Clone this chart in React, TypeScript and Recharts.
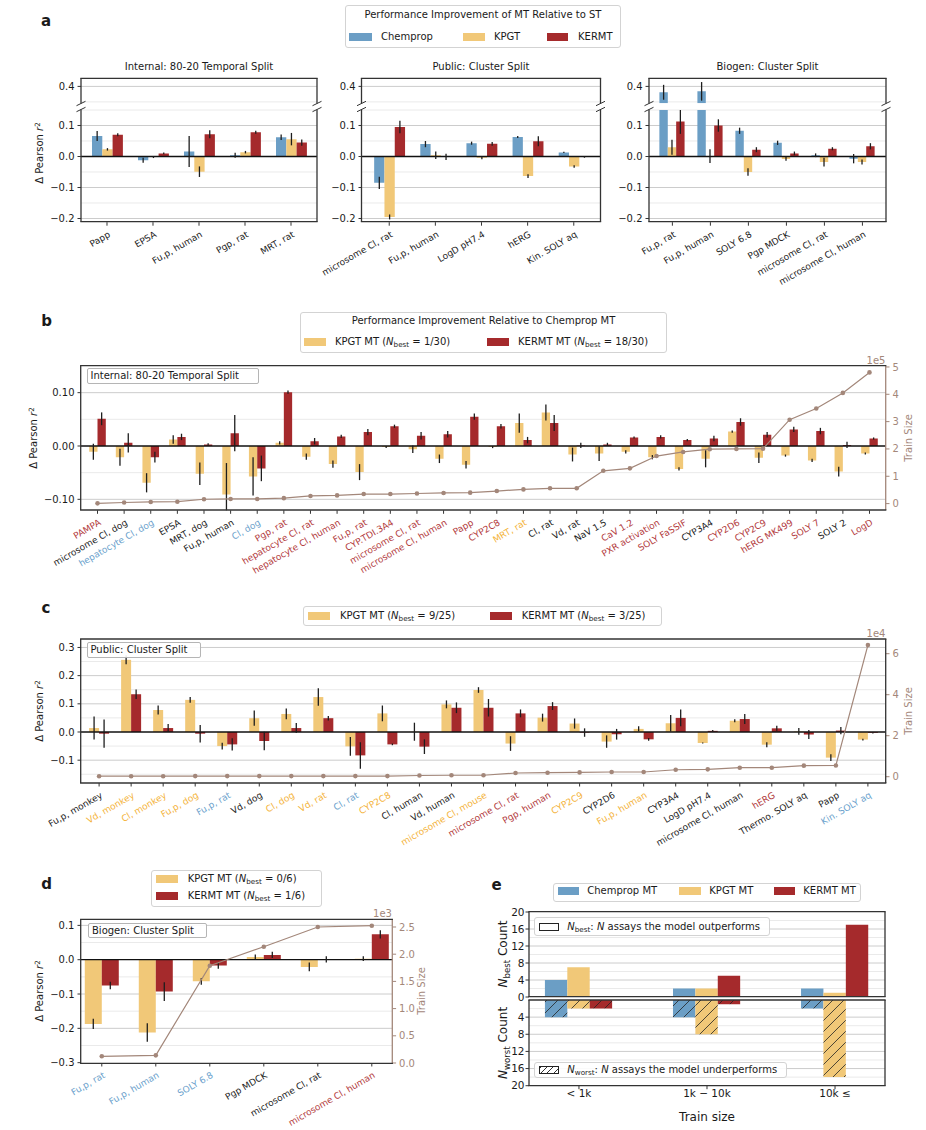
import React from 'react';
import { ComposedChart, Bar, Line, XAxis, YAxis, ErrorBar, ReferenceLine, CartesianGrid } from 'recharts';

// ---------- panel a: MT vs ST ----------
const A1_NAMES = ['Papp', 'EPSA', 'Fu,p, human', 'Pgp, rat', 'MRT, rat'];
const A1_CHEMPROP = [0.066, -0.012, 0.016, 0.004, 0.062];
const A1_CHEMPROP_ERR = [0.016, 0.008, 0.05, 0.008, 0.009];
const A1_KPGT = [0.023, -0.002, -0.049, 0.014, 0.056];
const A1_KPGT_ERR = [0.004, 0.003, 0.017, 0.004, 0.02];
const A1_KERMT = [0.07, 0.01, 0.072, 0.078, 0.045];
const A1_KERMT_ERR = [0.005, 0.003, 0.013, 0.005, 0.01];

const A2_NAMES = ['microsome Cl, rat', 'Fu,p, human', 'LogD pH7.4', 'hERG', 'Kin. SOLY aq'];
const A2_CHEMPROP = [-0.085, 0.04, 0.043, 0.063, 0.013];
const A2_CHEMPROP_ERR = [0.02, 0.01, 0.005, 0.003, 0.002];
const A2_KPGT = [-0.195, 0.004, -0.004, -0.063, -0.032];
const A2_KPGT_ERR = [0.008, 0.012, 0.005, 0.006, 0.004];
const A2_KERMT = [0.095, -0.001, 0.041, 0.049, -0.002];
const A2_KERMT_ERR = [0.02, 0.01, 0.006, 0.016, 0.002];

const A3_NAMES = ['Fu,p, rat', 'Fu,p, human', 'SOLY 6.8', 'Pgp MDCK', 'microsome Cl, rat', 'microsome Cl, human'];
const A3_CHEMPROP = [0.381, 0.384, 0.083, 0.044, 0.004, -0.007];
const A3_CHEMPROP_ERR = [0.024, 0.03, 0.01, 0.007, 0.006, 0.015];
const A3_KPGT = [0.03, 0.001, -0.05, -0.008, -0.018, -0.018];
const A3_KPGT_ERR = [0.024, 0.022, 0.012, 0.006, 0.014, 0.008];
const A3_KERMT = [0.113, 0.1, 0.022, 0.01, 0.025, 0.033];
const A3_KERMT_ERR = [0.04, 0.02, 0.008, 0.006, 0.005, 0.01];

// ---------- panel b: internal, relative to Chemprop MT ----------
const B_NAMES = ['PAMPA', 'microsome Cl, dog', 'hepatocyte Cl, dog', 'EPSA', 'MRT, dog', 'Fu,p, human', 'Cl, dog', 'Pgp, rat',
  'hepatocyte Cl, rat', 'hepatocyte Cl, human', 'Fu,p, rat', 'CYP.TDI.3A4', 'microsome Cl, rat', 'microsome Cl, human', 'Papp',
  'CYP2C8', 'MRT, rat', 'Cl, rat', 'Vd, rat', 'NaV 1.5', 'CaV 1.2', 'PXR activation', 'SOLY FaSSIF', 'CYP3A4', 'CYP2D6',
  'CYP2C9', 'hERG MK499', 'SOLY 7', 'SOLY 2', 'LogD'];
const B_BEST = ['r', 'k', 'b', 'k', 'k', 'k', 'b', 'r', 'r', 'r', 'r', 'r', 'r', 'r', 'r', 'r', 'y', 'k', 'k', 'k', 'r', 'r', 'r', 'k', 'r', 'r', 'r', 'r', 'k', 'r'];
const B_KPGT = [-0.011, -0.021, -0.069, 0.012, -0.052, -0.091, -0.057, 0.006, -0.02, -0.034, -0.049, -0.002, -0.006, -0.024, -0.035,
  -0.002, 0.043, 0.063, -0.016, -0.014, -0.011, -0.021, -0.043, -0.024, 0.027, -0.022, -0.018, -0.027, -0.048, -0.014];
const B_KPGT_ERR = [0.015, 0.016, 0.018, 0.008, 0.021, 0.059, 0.036, 0.003, 0.006, 0.007, 0.015, 0.002, 0.007, 0.008, 0.007,
  0.002, 0.018, 0.015, 0.013, 0.014, 0.003, 0.004, 0.003, 0.016, 0.002, 0.01, 0.002, 0.003, 0.009, 0.002];
const B_KERMT = [0.051, 0.006, -0.021, 0.017, 0.003, 0.024, -0.042, 0.101, 0.009, 0.018, 0.026, 0.037, 0.019, 0.022, 0.055,
  0.037, 0.011, 0.043, 0.001, 0.003, 0.016, 0.017, 0.011, 0.014, 0.045, 0.021, 0.031, 0.028, 0.002, 0.014];
const B_KERMT_ERR = [0.012, 0.018, 0.01, 0.006, 0.002, 0.034, 0.024, 0.003, 0.006, 0.003, 0.006, 0.003, 0.007, 0.006, 0.006,
  0.004, 0.006, 0.015, 0.005, 0.003, 0.002, 0.003, 0.002, 0.005, 0.007, 0.005, 0.005, 0.006, 0.006, 0.002];
const B_SIZE = [1000, 4000, 6000, 7000, 16000, 17000, 17000, 20000, 28000, 30000, 35000, 35000, 37000, 39000, 40000,
  46000, 52000, 56000, 56000, 120000, 129000, 174000, 189000, 199000, 200000, 201000, 307000, 348000, 405000, 480000];

// ---------- panel c: public cluster split ----------
const C_NAMES = ['Fu,p, monkey', 'Vd, monkey', 'Cl, monkey', 'Fu,p, dog', 'Fu,p, rat', 'Vd, dog', 'Cl, dog', 'Vd, rat', 'Cl, rat',
  'CYP2C8', 'Cl, human', 'Vd, human', 'microsome Cl, mouse', 'microsome Cl, rat', 'Pgp, human', 'CYP2C9', 'CYP2D6',
  'Fu,p, human', 'CYP3A4', 'LogD pH7.4', 'microsome Cl, human', 'hERG', 'Thermo. SOLY aq', 'Papp', 'Kin. SOLY aq'];
const C_BEST = ['k', 'y', 'y', 'y', 'b', 'k', 'y', 'y', 'b', 'y', 'k', 'k', 'y', 'r', 'r', 'y', 'k', 'y', 'k', 'k', 'k', 'r', 'k', 'k', 'b'];
const C_KPGT = [0.014, 0.256, 0.078, 0.114, -0.05, 0.049, 0.064, 0.124, -0.051, 0.066, 0.001, 0.098, 0.149, -0.041, 0.051,
  0.03, -0.034, 0.011, 0.031, -0.039, 0.04, -0.045, 0.002, -0.091, -0.027];
const C_KPGT_ERR = [0.041, 0.016, 0.016, 0.01, 0.012, 0.027, 0.019, 0.031, 0.033, 0.028, 0.032, 0.014, 0.01, 0.026, 0.014,
  0.018, 0.022, 0.009, 0.029, 0.002, 0.005, 0.009, 0.012, 0.012, 0.003];
const C_KERMT = [-0.006, 0.134, 0.014, -0.006, -0.044, -0.032, 0.014, 0.049, -0.083, -0.044, -0.052, 0.086, 0.086, 0.066, 0.092,
  -0.002, -0.008, -0.026, 0.05, 0.004, 0.046, 0.013, -0.009, 0.005, -0.003];
const C_KERMT_ERR = [0.05, 0.017, 0.014, 0.031, 0.022, 0.033, 0.018, 0.008, 0.047, 0.003, 0.026, 0.019, 0.031, 0.014, 0.014,
  0.015, 0.019, 0.005, 0.03, 0.003, 0.018, 0.009, 0.016, 0.013, 0.002];
const C_SIZE = [250, 250, 250, 300, 300, 300, 300, 300, 300, 300, 600, 700, 700, 1800, 1950, 2100, 2300, 2300, 3400, 3600,
  4400, 4400, 5400, 5500, 64200];

// ---------- panel d: biogen cluster split ----------
const D_NAMES = ['Fu,p, rat', 'Fu,p, human', 'SOLY 6.8', 'Pgp MDCK', 'microsome Cl, rat', 'microsome Cl, human'];
const D_BEST = ['b', 'b', 'b', 'k', 'k', 'r'];
const D_KPGT = [-0.187, -0.212, -0.063, 0.008, -0.021, 0.003];
const D_KPGT_ERR = [0.015, 0.027, 0.01, 0.007, 0.013, 0.007];
const D_KERMT = [-0.075, -0.093, -0.017, 0.014, 0.001, 0.074];
const D_KERMT_ERR = [0.011, 0.027, 0.009, 0.009, 0.009, 0.012];
const D_SIZE = [123, 141, 1789, 2138, 2500, 2524];

// ---------- panel e: counts by train size ----------
const E_CATS = ['< 1k', '1k \u2212 10k', '10k \u2264'];
const E_BEST_CHEMPROP = [4, 2, 2];
const E_BEST_KPGT = [7, 2, 1];
const E_BEST_KERMT = [0, 5, 17];
const E_WORST_CHEMPROP = [4, 4, 2];
const E_WORST_KPGT = [2, 8, 18];
const E_WORST_KERMT = [2, 1, 0];

// ---------- style ----------
const FONT = '"DejaVu Sans", Verdana, sans-serif';
const COL_CHEM = '#6b9ec5';
const COL_KPGT = '#f1c878';
const COL_KERMT = '#a52a2c';
const COL_SIZE = '#a3877a';
const COL_ERR = '#1e1e1e';
const COL_SPINE = '#333333';
const COL_GRID = '#cccccc';
const COL_GRID_MINOR = '#eaeaea';
const TEXT = '#1a1a1a';
const LABEL_COLOR: Record<string, string> = { k: TEXT, r: '#b2393b', b: '#6a9fcc', y: '#f4b33a' };

const A_TOP_Y = [78.3, 103.5];
const A_BOT_Y = [109.5, 221.7];
const A_TOP_DOMAIN: [number, number] = [0.3458, 0.4271];
const A_BOT_DOMAIN: [number, number] = [-0.2119, 0.15];
const A_LAYOUT = [
  { x0: 81, x1: 317, xlim: [-0.565, 4.565] as [number, number], bar: 10.3 },
  { x0: 361.5, x1: 600.5, xlim: [-0.59, 4.59] as [number, number], bar: 10.3 },
  { x0: 649, x1: 886, xlim: [-0.615, 5.62] as [number, number], bar: 8.4 },
];
const B_PLOT = { x0: 80.7, y0: 365.7, x1: 885.7, y1: 510 };
const C_PLOT = { x0: 80.7, y0: 639, x1: 885.7, y1: 783 };
const D_PLOT = { x0: 80.7, y0: 919.3, x1: 392.3, y1: 1063.3 };
const E_TOP = { x0: 529, y0: 911.7, x1: 885, y1: 996.7 };
const E_BOT = { x0: 529, y0: 1000, x1: 885, y1: 1085.7 };
const B_YDOMAIN: [number, number] = [-0.1206, 0.15];
const C_YDOMAIN: [number, number] = [-0.181, 0.33];
const D_YDOMAIN: [number, number] = [-0.301, 0.1186];

const PAD_L = 60, PAD_R = 60, PAD_T = 10, AX_W = 40;
const idx = (n: number) => Array.from({ length: n }, (_, i) => i);
const fmt = (d: number) => (v: number) => (v < -1e-9 ? '\u2212' : '') + Math.abs(v).toFixed(d);

function chartBox(x0: number, y0: number, x1: number, y1: number, xh: number, right: boolean) {
  return {
    style: { position: 'absolute' as const, left: x0 - PAD_L, top: y0 - PAD_T },
    width: x1 - x0 + PAD_L + PAD_R,
    height: y1 - y0 + PAD_T + xh,
    margin: { top: PAD_T, bottom: 0, left: PAD_L - AX_W, right: right ? PAD_R - AX_W : PAD_R },
  };
}

// error whiskers stop at the edge of the axes, like matplotlib's clipping
const clipErr = (v: number, e: number, dom: [number, number]) => [Math.max(0, Math.min(e, v - dom[0])), Math.max(0, Math.min(e, dom[1] - v))];

const rotTick = (names: string[], best: string[] | null) => (props: any) => {
  const { x, y, payload } = props;
  const i = Math.round(payload.value);
  const bx = x + 4;
  const by = y + 8.5;
  return (
    <text x={bx} y={by} transform={`rotate(-30 ${bx} ${by})`} textAnchor="end" fontSize={9} fontFamily={FONT}
      fill={LABEL_COLOR[best ? best[i] : 'k']}>
      {names[i]}
    </text>
  );
};

const tickStyle = { fontSize: 10, fill: TEXT, fontFamily: FONT };
const rightTickStyle = { fontSize: 10, fill: COL_SIZE, fontFamily: FONT };

// ---------- small html helpers ----------
function Txt({ x, y, size = 10, anchor = 'start', color = TEXT, bold = false, rotate = 0, children }: any) {
  const tx = anchor === 'start' ? '0' : anchor === 'middle' ? '-50%' : '-100%';
  return (
    <div style={{
      position: 'absolute', left: x, top: y, fontSize: size, lineHeight: 1, whiteSpace: 'nowrap', color,
      fontWeight: bold ? 'bold' : 'normal', fontFamily: FONT,
      transform: rotate ? `translate(-50%,-50%) rotate(${rotate}deg)` : `translate(${tx},-50%)`,
    }}>{children}</div>
  );
}
function Box({ x0, y0, x1, y1, border = '#d3d3d3', radius = 3 }: any) {
  return <div style={{ position: 'absolute', left: x0, top: y0, width: x1 - x0, height: y1 - y0, boxSizing: 'border-box',
    border: `1px solid ${border}`, borderRadius: radius, background: 'rgba(255,255,255,0.9)' }} />;
}
function Swatch({ x0, x1, y, color = '#fff', hatch = false, hollow = false }: any) {
  return <div style={{ position: 'absolute', left: x0, top: y - 4, width: x1 - x0, height: 8, boxSizing: 'border-box',
    background: color,
    backgroundImage: hatch ? 'repeating-linear-gradient(135deg, #333 0 0.8px, transparent 0.8px 4.5px)' : undefined,
    border: hatch || hollow ? '1px solid #222' : undefined }} />;
}
const Sub = ({ children }: any) => <span style={{ fontSize: '0.72em', position: 'relative', top: '0.3em' }}>{children}</span>;
const Sup = ({ children }: any) => <span style={{ fontSize: '0.72em', position: 'relative', top: '-0.45em' }}>{children}</span>;
const NB = () => <><i>N</i><Sub>best</Sub></>;
const NW = () => <><i>N</i><Sub>worst</Sub></>;
const DeltaR2 = () => <>Δ Pearson <i>r</i><Sup>2</Sup></>;

// ---------- panel a ----------
const A_SETS = [
  { names: A1_NAMES, chem: A1_CHEMPROP, chemErr: A1_CHEMPROP_ERR, kpgt: A1_KPGT, kpgtErr: A1_KPGT_ERR, kermt: A1_KERMT, kermtErr: A1_KERMT_ERR },
  { names: A2_NAMES, chem: A2_CHEMPROP, chemErr: A2_CHEMPROP_ERR, kpgt: A2_KPGT, kpgtErr: A2_KPGT_ERR, kermt: A2_KERMT, kermtErr: A2_KERMT_ERR },
  { names: A3_NAMES, chem: A3_CHEMPROP, chemErr: A3_CHEMPROP_ERR, kpgt: A3_KPGT, kpgtErr: A3_KPGT_ERR, kermt: A3_KERMT, kermtErr: A3_KERMT_ERR },
];

function aRows(s: any, part: 'top' | 'bot') {
  return s.names.map((_: string, i: number) => {
    const row: any = { i };
    for (const key of ['chem', 'kpgt', 'kermt']) {
      const v = s[key][i];
      const e = s[key + 'Err'][i];
      if (part === 'top') {
        const show = v > A_TOP_DOMAIN[0];
        row[key] = show ? v : null;
        row[key + 'Err'] = show ? clipErr(v, e, A_TOP_DOMAIN) : null;
      } else {
        const over = v > A_BOT_DOMAIN[1];
        row[key] = over ? A_BOT_DOMAIN[1] : v;
        row[key + 'Err'] = over ? null : clipErr(v, e, A_BOT_DOMAIN);
      }
    }
    return row;
  });
}

function ASubplot({ k }: { k: number }) {
  const s = A_SETS[k];
  const L = A_LAYOUT[k];
  const top = chartBox(L.x0, A_TOP_Y[0], L.x1, A_TOP_Y[1], 0, false);
  const bot = chartBox(L.x0, A_BOT_Y[0], L.x1, A_BOT_Y[1], 80, false);
  const bars = (suffix: string) => [
    <Bar key={'c' + suffix} dataKey="chem" fill={COL_CHEM} barSize={L.bar} isAnimationActive={false}>
      <ErrorBar dataKey="chemErr" width={0} stroke={COL_ERR} strokeWidth={1.3} direction="y" />
    </Bar>,
    <Bar key={'p' + suffix} dataKey="kpgt" fill={COL_KPGT} barSize={L.bar} isAnimationActive={false}>
      <ErrorBar dataKey="kpgtErr" width={0} stroke={COL_ERR} strokeWidth={1.3} direction="y" />
    </Bar>,
    <Bar key={'k' + suffix} dataKey="kermt" fill={COL_KERMT} barSize={L.bar} isAnimationActive={false}>
      <ErrorBar dataKey="kermtErr" width={0} stroke={COL_ERR} strokeWidth={1.3} direction="y" />
    </Bar>,
  ];
  return (
    <>
      <div style={top.style}>
        <ComposedChart width={top.width} height={top.height} margin={top.margin} data={aRows(s, 'top')} barGap={0}>
          <CartesianGrid vertical={false} horizontalValues={[0.35]} stroke={COL_GRID_MINOR} />
          <CartesianGrid vertical={false} horizontalValues={[0.4]} stroke={COL_GRID} />
          <XAxis hide type="number" dataKey="i" domain={L.xlim} allowDataOverflow ticks={idx(s.names.length)} />
          <YAxis type="number" domain={A_TOP_DOMAIN} allowDataOverflow ticks={[0.4]} interval={0} tickFormatter={fmt(1)}
            width={AX_W} tickSize={3.5} tickMargin={3} tick={tickStyle} tickLine={{ stroke: COL_SPINE }} axisLine={false} />
          {bars('t')}
        </ComposedChart>
      </div>
      <div style={bot.style}>
        <ComposedChart width={bot.width} height={bot.height} margin={bot.margin} data={aRows(s, 'bot')} barGap={0}>
          <CartesianGrid vertical={false} horizontalValues={[-0.15, -0.05, 0.05, 0.15]} stroke={COL_GRID_MINOR} />
          <CartesianGrid vertical={false} horizontalValues={[-0.2, -0.1, 0.1]} stroke={COL_GRID} />
          <XAxis type="number" dataKey="i" domain={L.xlim} allowDataOverflow ticks={idx(s.names.length)} interval={0}
            tick={rotTick(s.names, null)} tickSize={3.5} tickMargin={2} tickLine={{ stroke: COL_SPINE }} axisLine={false} height={80} />
          <YAxis type="number" domain={A_BOT_DOMAIN} allowDataOverflow ticks={[-0.2, -0.1, 0, 0.1]} interval={0} tickFormatter={fmt(1)}
            width={AX_W} tickSize={3.5} tickMargin={3} tick={tickStyle} tickLine={{ stroke: COL_SPINE }} axisLine={false} />
          <ReferenceLine y={0} stroke="#111" strokeWidth={1.3} />
          {bars('b')}
        </ComposedChart>
      </div>
    </>
  );
}

// ---------- panels b, c, d ----------
function DeltaPanel(p: any) {
  const bx = chartBox(p.plot.x0, p.plot.y0, p.plot.x1, p.plot.y1, 90, true);
  return (
    <div style={bx.style}>
      <ComposedChart width={bx.width} height={bx.height} margin={bx.margin} data={p.rows} barGap={0}>
        <CartesianGrid yAxisId="l" vertical={false} horizontalValues={p.gridMinor} stroke={COL_GRID_MINOR} />
        <CartesianGrid yAxisId="l" vertical={false} horizontalValues={p.gridMajor} stroke={COL_GRID} />
        <XAxis type="number" dataKey="i" domain={p.xlim} allowDataOverflow ticks={idx(p.names.length)} interval={0}
          tick={rotTick(p.names, p.best)} tickSize={3.5} tickMargin={2} tickLine={{ stroke: COL_SPINE }} axisLine={false} height={90} />
        <YAxis yAxisId="l" type="number" domain={p.yDomain} allowDataOverflow ticks={p.yTicks} interval={0} tickFormatter={fmt(p.yDigits)}
          width={AX_W} tickSize={3.5} tickMargin={3} tick={tickStyle} tickLine={{ stroke: COL_SPINE }} axisLine={false} />
        <YAxis yAxisId="r" orientation="right" type="number" domain={p.rDomain} allowDataOverflow ticks={p.rTicks} interval={0}
          tickFormatter={p.rFmt} width={AX_W} tickSize={3.5} tickMargin={3} tick={rightTickStyle} tickLine={{ stroke: COL_SIZE }} axisLine={false} />
        <ReferenceLine yAxisId="l" y={0} stroke="#111" strokeWidth={1.3} />
        <Bar yAxisId="l" dataKey="kpgt" fill={COL_KPGT} barSize={p.bar} isAnimationActive={false}>
          <ErrorBar dataKey="kpgtErr" width={0} stroke={COL_ERR} strokeWidth={1.3} direction="y" />
        </Bar>
        <Bar yAxisId="l" dataKey="kermt" fill={COL_KERMT} barSize={p.bar} isAnimationActive={false}>
          <ErrorBar dataKey="kermtErr" width={0} stroke={COL_ERR} strokeWidth={1.3} direction="y" />
        </Bar>
        <Line yAxisId="r" dataKey="size" stroke={COL_SIZE} strokeWidth={1.2} dot={{ r: 2.3, fill: COL_SIZE, stroke: COL_SIZE, strokeWidth: 0 }}
          activeDot={false} isAnimationActive={false} />
      </ComposedChart>
    </div>
  );
}

const deltaRows = (names: string[], kpgt: number[], kpgtErr: number[], kermt: number[], kermtErr: number[], size: number[], dom: [number, number]) =>
  names.map((_, i) => ({
    i, kpgt: kpgt[i], kpgtErr: clipErr(kpgt[i], kpgtErr[i], dom),
    kermt: kermt[i], kermtErr: clipErr(kermt[i], kermtErr[i], dom), size: size[i],
  }));

// ---------- panel e ----------
const eTick = (props: any) => (
  <text x={props.x} y={props.y + 6} textAnchor="middle" fontSize={10.5} fontFamily={FONT} fill={TEXT}>
    {E_CATS[Math.round(props.payload.value)]}
  </text>
);

function PanelE() {
  const rowsTop = E_CATS.map((_, i) => ({ i, chem: E_BEST_CHEMPROP[i], kpgt: E_BEST_KPGT[i], kermt: E_BEST_KERMT[i] }));
  const rowsBot = E_CATS.map((_, i) => ({ i, chem: E_WORST_CHEMPROP[i], kpgt: E_WORST_KPGT[i], kermt: E_WORST_KERMT[i] }));
  const top = chartBox(E_TOP.x0, E_TOP.y0, E_TOP.x1, E_TOP.y1, 0, false);
  const bot = chartBox(E_BOT.x0, E_BOT.y0, E_BOT.x1, E_BOT.y1, 30, false);
  const xlim: [number, number] = [-0.39, 2.39];
  const yTick = { fontSize: 10.5, fill: TEXT, fontFamily: FONT };
  const hatch = (id: string, color: string) => (
    <pattern id={id} patternUnits="userSpaceOnUse" width={11} height={11}>
      <rect width={11} height={11} fill={color} />
      <path d="M0,11 L11,0 M-2,2 L2,-2 M9,13 L13,9" stroke="#222" strokeWidth={0.8} />
    </pattern>
  );
  return (
    <>
      <div style={top.style}>
        <ComposedChart width={top.width} height={top.height} margin={top.margin} data={rowsTop} barGap={0}>
          <CartesianGrid vertical={false} horizontalValues={[2, 6, 10, 14, 18]} stroke={COL_GRID_MINOR} />
          <CartesianGrid vertical={false} horizontalValues={[4, 8, 12, 16]} stroke={COL_GRID} />
          <XAxis hide type="number" dataKey="i" domain={xlim} allowDataOverflow ticks={[0, 1, 2]} />
          <YAxis type="number" domain={[0, 20]} allowDataOverflow ticks={[0, 4, 8, 12, 16, 20]} interval={0}
            width={AX_W} tickSize={3.5} tickMargin={1} tick={yTick} tickLine={{ stroke: COL_SPINE }} axisLine={false} />
          <Bar dataKey="chem" fill={COL_CHEM} barSize={22.4} isAnimationActive={false} />
          <Bar dataKey="kpgt" fill={COL_KPGT} barSize={22.4} isAnimationActive={false} />
          <Bar dataKey="kermt" fill={COL_KERMT} barSize={22.4} isAnimationActive={false} />
        </ComposedChart>
      </div>
      <div style={bot.style}>
        <ComposedChart width={bot.width} height={bot.height} margin={bot.margin} data={rowsBot} barGap={0}>
          <defs>
            {hatch('hatch-chem', COL_CHEM)}
            {hatch('hatch-kpgt', COL_KPGT)}
            {hatch('hatch-kermt', COL_KERMT)}
          </defs>
          <CartesianGrid vertical={false} horizontalValues={[2, 6, 10, 14, 18]} stroke={COL_GRID_MINOR} />
          <CartesianGrid vertical={false} horizontalValues={[4, 8, 12, 16]} stroke={COL_GRID} />
          <XAxis type="number" dataKey="i" domain={xlim} allowDataOverflow ticks={[0, 1, 2]} interval={0} tick={eTick}
            tickSize={3.5} tickMargin={2} tickLine={{ stroke: COL_SPINE }} axisLine={false} height={30} />
          <YAxis type="number" reversed domain={[0, 20]} allowDataOverflow ticks={[4, 8, 12, 16, 20]} interval={0}
            width={AX_W} tickSize={3.5} tickMargin={1} tick={yTick} tickLine={{ stroke: COL_SPINE }} axisLine={false} />
          <Bar dataKey="chem" fill="url(#hatch-chem)" barSize={22.4} isAnimationActive={false} />
          <Bar dataKey="kpgt" fill="url(#hatch-kpgt)" barSize={22.4} isAnimationActive={false} />
          <Bar dataKey="kermt" fill="url(#hatch-kermt)" barSize={22.4} isAnimationActive={false} />
        </ComposedChart>
      </div>
    </>
  );
}

// ---------- spines & break marks ----------
function Overlay() {
  const frames: any[] = [
    ...A_LAYOUT.flatMap(L => [
      { x0: L.x0, x1: L.x1, y0: A_TOP_Y[0], y1: A_TOP_Y[1], sides: 'ltr' },
      { x0: L.x0, x1: L.x1, y0: A_BOT_Y[0], y1: A_BOT_Y[1], sides: 'lrb' },
    ]),
    { ...B_PLOT, sides: 'ltrb', right: COL_SIZE },
    { ...C_PLOT, sides: 'ltrb' },
    { ...D_PLOT, sides: 'ltrb', right: COL_SIZE },
    { ...E_TOP, sides: 'ltrb' },
    { ...E_BOT, sides: 'ltrb' },
  ];
  const lines: React.ReactNode[] = [];
  frames.forEach((f, n) => {
    const w = 1.3;
    if (f.sides.includes('l')) lines.push(<line key={`l${n}`} x1={f.x0} y1={f.y0} x2={f.x0} y2={f.y1} stroke={COL_SPINE} strokeWidth={w} />);
    if (f.sides.includes('r')) lines.push(<line key={`r${n}`} x1={f.x1} y1={f.y0} x2={f.x1} y2={f.y1} stroke={f.right || COL_SPINE} strokeWidth={w} />);
    if (f.sides.includes('t')) lines.push(<line key={`t${n}`} x1={f.x0 - 0.65} y1={f.y0} x2={f.x1 + 0.65} y2={f.y0} stroke={COL_SPINE} strokeWidth={w} />);
    if (f.sides.includes('b')) lines.push(<line key={`b${n}`} x1={f.x0 - 0.65} y1={f.y1} x2={f.x1 + 0.65} y2={f.y1} stroke={COL_SPINE} strokeWidth={w} />);
  });
  A_LAYOUT.forEach((L, n) => {
    [L.x0, L.x1].forEach((x, m) => {
      [A_TOP_Y[1], A_BOT_Y[0]].forEach((y, q) => {
        lines.push(<line key={`brk${n}${m}${q}`} x1={x - 4.5} y1={y + 2.2} x2={x + 4.5} y2={y - 2.2} stroke={COL_SPINE} strokeWidth={1} />);
      });
    });
  });
  return (
    <svg width={926} height={1130} style={{ position: 'absolute', left: 0, top: 0, pointerEvents: 'none' }}>
      {lines}
    </svg>
  );
}

export default function App() {
  const bRows = deltaRows(B_NAMES, B_KPGT, B_KPGT_ERR, B_KERMT, B_KERMT_ERR, B_SIZE, B_YDOMAIN);
  const cRows = deltaRows(C_NAMES, C_KPGT, C_KPGT_ERR, C_KERMT, C_KERMT_ERR, C_SIZE, C_YDOMAIN);
  const dRows = deltaRows(D_NAMES, D_KPGT, D_KPGT_ERR, D_KERMT, D_KERMT_ERR, D_SIZE, D_YDOMAIN);
  return (
    <div style={{ position: 'absolute', left: 0, top: 0, width: 926, height: 1130, background: '#fff', overflow: 'hidden', fontFamily: FONT }}>
      <style>{'.recharts-surface{overflow:visible}'}</style>

      {[0, 1, 2].map(k => <ASubplot key={k} k={k} />)}

      <DeltaPanel rows={bRows} names={B_NAMES} best={B_BEST} plot={B_PLOT} xlim={[-0.62, 29.62]} bar={8.3}
        yDomain={B_YDOMAIN} yTicks={[-0.1, 0, 0.1]} yDigits={2} gridMajor={[-0.1, 0.1]} gridMinor={[-0.05, 0.05]}
        rDomain={[-24500, 503500]} rTicks={[0, 100000, 200000, 300000, 400000, 500000]} rFmt={(v: number) => String(v / 1e5)} />
      <DeltaPanel rows={cRows} names={C_NAMES} best={C_BEST} plot={C_PLOT} xlim={[-0.565, 24.565]} bar={10}
        yDomain={C_YDOMAIN} yTicks={[-0.1, 0, 0.1, 0.2, 0.3]} yDigits={1} gridMajor={[-0.1, 0.1, 0.2, 0.3]}
        gridMinor={[-0.15, -0.05, 0.05, 0.15, 0.25]}
        rDomain={[-3070, 67170]} rTicks={[0, 20000, 40000, 60000]} rFmt={(v: number) => String(v / 1e4)} />
      <DeltaPanel rows={dRows} names={D_NAMES} best={D_BEST} plot={D_PLOT} xlim={[-0.385, 5.385]} bar={17}
        yDomain={D_YDOMAIN} yTicks={[-0.3, -0.2, -0.1, 0, 0.1]} yDigits={1} gridMajor={[-0.2, -0.1, 0.1]}
        gridMinor={[-0.25, -0.15, -0.05, 0.05]}
        rDomain={[0, 2647]} rTicks={[0, 500, 1000, 1500, 2000, 2500]} rFmt={(v: number) => (v / 1000).toFixed(1)} />
      <PanelE />
      <Overlay />

      {/* panel letters */}
      <Txt x={46} y={21} size={15} bold anchor="middle">a</Txt>
      <Txt x={46.5} y={320.5} size={15} bold anchor="middle">b</Txt>
      <Txt x={46} y={608} size={15} bold anchor="middle">c</Txt>
      <Txt x={46.5} y={883.5} size={15} bold anchor="middle">d</Txt>
      <Txt x={496.5} y={885} size={15} bold anchor="middle">e</Txt>

      {/* panel a texts */}
      <Txt x={199} y={66.5} anchor="middle">Internal: 80-20 Temporal Split</Txt>
      <Txt x={481} y={66.5} anchor="middle">Public: Cluster Split</Txt>
      <Txt x={767.5} y={66.5} anchor="middle">Biogen: Cluster Split</Txt>
      <Txt x={40} y={153} rotate={-90}><DeltaR2 /></Txt>
      <Box x0={345} y0={5} x1={621} y1={48} />
      <Txt x={483} y={15} anchor="middle">Performance Improvement of MT Relative to ST</Txt>
      <Swatch x0={349} x1={372} y={37} color={COL_CHEM} />
      <Txt x={381} y={37}>Chemprop</Txt>
      <Swatch x0={462.7} x1={485} y={37} color={COL_KPGT} />
      <Txt x={494} y={37}>KPGT</Txt>
      <Swatch x0={546.7} x1={568.3} y={37} color={COL_KERMT} />
      <Txt x={578} y={37}>KERMT</Txt>

      {/* panel b texts */}
      <Box x0={300} y0={311.7} x1={667} y1={352.7} />
      <Txt x={483.5} y={321} anchor="middle">Performance Improvement Relative to Chemprop MT</Txt>
      <Swatch x0={304} x1={326} y={342.3} color={COL_KPGT} />
      <Txt x={335} y={342.3}>KPGT MT (<NB /> = 1/30)</Txt>
      <Swatch x0={486.7} x1={509} y={342.3} color={COL_KERMT} />
      <Txt x={518} y={342.3}>KERMT MT (<NB /> = 18/30)</Txt>
      <Box x0={86.7} y0={368} x1={259.3} y1={384.3} border="#b5b5b5" radius={2} />
      <Txt x={90.5} y={376.2}>Internal: 80-20 Temporal Split</Txt>
      <Txt x={34} y={438} rotate={-90}><DeltaR2 /></Txt>
      <Txt x={909} y={438} rotate={-90} color={COL_SIZE}>Train Size</Txt>
      <Txt x={885.5} y={361} anchor="end" color={COL_SIZE}>1e5</Txt>

      {/* panel c texts */}
      <Box x0={303.3} y0={606} x1={662.3} y1={626} />
      <Swatch x0={308} x1={330} y={615.7} color={COL_KPGT} />
      <Txt x={340} y={615.7}>KPGT MT (<NB /> = 9/25)</Txt>
      <Swatch x0={490} x1={512} y={615.7} color={COL_KERMT} />
      <Txt x={521.7} y={615.7}>KERMT MT (<NB /> = 3/25)</Txt>
      <Box x0={86.7} y0={642} x1={201} y1={657.7} border="#b5b5b5" radius={2} />
      <Txt x={90.5} y={650}>Public: Cluster Split</Txt>
      <Txt x={40} y={711} rotate={-90}><DeltaR2 /></Txt>
      <Txt x={909} y={711} rotate={-90} color={COL_SIZE}>Train Size</Txt>
      <Txt x={885.5} y={634} anchor="end" color={COL_SIZE}>1e4</Txt>

      {/* panel d texts */}
      <Box x0={151} y0={870} x1={322} y1={906.7} />
      <Swatch x0={155.7} x1={177.7} y={879} color={COL_KPGT} />
      <Txt x={187.7} y={879}>KPGT MT (<NB /> = 0/6)</Txt>
      <Swatch x0={155.7} x1={177.7} y={895.7} color={COL_KERMT} />
      <Txt x={187.7} y={895.7}>KERMT MT (<NB /> = 1/6)</Txt>
      <Box x0={88.3} y0={923} x1={206.7} y1={938} border="#b5b5b5" radius={2} />
      <Txt x={92} y={930.5}>Biogen: Cluster Split</Txt>
      <Txt x={40} y={991.3} rotate={-90}><DeltaR2 /></Txt>
      <Txt x={421.7} y={991.3} rotate={-90} color={COL_SIZE}>Train Size</Txt>
      <Txt x={392} y={914} anchor="end" color={COL_SIZE}>1e3</Txt>

      {/* panel e texts */}
      <Box x0={553} y0={882.7} x1={861} y1={901.7} />
      <Swatch x0={557.7} x1={579} y={891} color={COL_CHEM} />
      <Txt x={587.3} y={891}>Chemprop MT</Txt>
      <Swatch x0={679} x1={701} y={891} color={COL_KPGT} />
      <Txt x={709.3} y={891}>KPGT MT</Txt>
      <Swatch x0={774} x1={795} y={891} color={COL_KERMT} />
      <Txt x={803.3} y={891}>KERMT MT</Txt>
      <Box x0={534} y0={917} x1={770} y1={936} />
      <Swatch x0={539} x1={559} y={926.5} hollow />
      <Txt x={567.3} y={926.5}><NB />: <i>N</i> assays the model outperforms</Txt>
      <Box x0={534} y0={1061.7} x1={787} y1={1078} />
      <Swatch x0={539} x1={559} y={1069.8} hatch />
      <Txt x={567.3} y={1069.8}><NW />: <i>N</i> assays the model underperforms</Txt>
      <Txt x={503} y={954.2} size={12} rotate={-90}><NB /> Count</Txt>
      <Txt x={503} y={1042.8} size={12} rotate={-90}><NW /> Count</Txt>
      <Txt x={707} y={1117} size={12} anchor="middle">Train size</Txt>
    </div>
  );
}
